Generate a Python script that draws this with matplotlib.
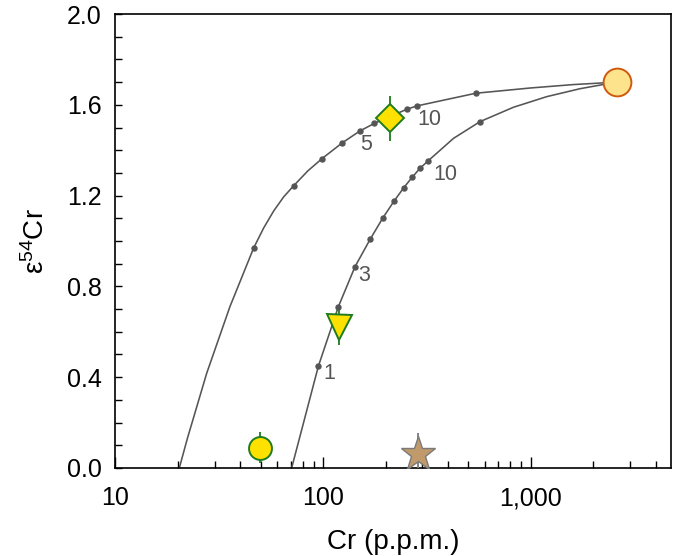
import matplotlib
matplotlib.use('Agg')
import matplotlib.pyplot as plt
import matplotlib.ticker as ticker

plt.rcParams['font.family'] = ['Liberation Sans', 'DejaVu Sans']
plt.rcParams['mathtext.fontset'] = 'custom'
plt.rcParams['mathtext.rm'] = 'Liberation Sans'
plt.rcParams['mathtext.it'] = 'Liberation Sans:italic'

# mixing curves (Cr p.p.m., e54Cr)
left_curve_x = [20.3, 22.2, 27.5, 35.6, 46.3, 51.8, 57.9, 64.7, 72.3, 84.5, 98.9, 124, 150.7,
                176.6, 212, 253, 283, 545, 995, 1600, 2600]
left_curve_y = [0.0, 0.13, 0.417, 0.711, 0.969, 1.058, 1.133, 1.195, 1.244, 1.309, 1.363, 1.433, 1.485,
                1.518, 1.55, 1.58, 1.595, 1.651, 1.674, 1.689, 1.70]
left_dots_x = [46.3, 72.3, 98.9, 124, 150.7, 176.6, 253, 283, 545]
left_dots_y = [0.969, 1.244, 1.363, 1.433, 1.485, 1.518, 1.58, 1.595, 1.651]

right_curve_x = [70.6, 82.8, 95, 118.6, 142.6, 169, 194, 220, 245, 269, 293, 320, 425, 571, 826, 1197, 1733, 2600]
right_curve_y = [0.0, 0.241, 0.449, 0.711, 0.887, 1.009, 1.101, 1.176, 1.235, 1.281, 1.32, 1.352, 1.452, 1.526,
                 1.589, 1.636, 1.671, 1.70]
right_dots_x = [95, 118.6, 142.6, 169, 194, 220, 245, 269, 293, 320, 571]
right_dots_y = [0.449, 0.711, 0.887, 1.009, 1.101, 1.176, 1.235, 1.281, 1.32, 1.352, 1.526]

# percent labels along the curves
pct_labels = ['1', '3', '5', '10', '10']
pct_x = [107, 158, 162, 325, 390]
pct_y = [0.417, 0.846, 1.423, 1.536, 1.295]

# samples
endmember = (2600, 1.70)
diamond = (211, 1.54, 0.10)
triangle = (120, 0.62, 0.077)
circle = (49.7, 0.09, 0.07)
star = (288, 0.062, 0.09)

fig = plt.figure(figsize=(6.75, 5.56), dpi=100)
ax = fig.add_axes([0.1711, 0.1583, 0.8230, 0.8165])

curve_col = '#555555'
ax.plot(left_curve_x, left_curve_y, color=curve_col, lw=1.15, zorder=2)
ax.plot(right_curve_x, right_curve_y, color=curve_col, lw=1.15, zorder=2)
ax.plot(left_dots_x, left_dots_y, 'o', color=curve_col, ms=3.6, zorder=3)
ax.plot(right_dots_x, right_dots_y, 'o', color=curve_col, ms=3.6, zorder=3)

for t, x, y in zip(pct_labels, pct_x, pct_y):
    ax.text(x, y, t, fontsize=15.5, color='#555555', ha='center', va='center')

yellow = '#FFE100'
green = '#1E7B1E'
ax.errorbar(diamond[0], diamond[1], yerr=diamond[2], fmt='D', ms=14, mfc=yellow, mec=green,
            mew=1.4, ecolor=green, elinewidth=1.3, capsize=0, zorder=5)
ax.errorbar(triangle[0], triangle[1], yerr=triangle[2], fmt='v', ms=18, mfc=yellow, mec=green,
            mew=1.4, ecolor=green, elinewidth=1.3, capsize=0, zorder=5)
ax.errorbar(circle[0], circle[1], yerr=circle[2], fmt='o', ms=16.5, mfc=yellow, mec=green,
            mew=1.4, ecolor=green, elinewidth=1.3, capsize=0, zorder=5)
ax.errorbar(star[0], star[1], yerr=star[2], fmt='*', ms=26, mfc='#C19A6B', mec='#7A7A7A',
            mew=1.0, ecolor='#7A7A7A', elinewidth=1.3, capsize=0, zorder=5)
ax.plot(endmember[0], endmember[1], 'o', ms=20, mfc='#FDE38B', mec='#CF5A0F', mew=1.4,
        zorder=6, clip_on=False)

ax.set_xscale('log')
ax.set_xlim(10, 4750)
ax.set_ylim(0, 2.0)

ax.xaxis.set_major_locator(ticker.FixedLocator([10, 100, 1000]))
ax.xaxis.set_major_formatter(ticker.FuncFormatter(lambda v, p: f'{v:,.0f}'))
ax.xaxis.set_minor_locator(ticker.LogLocator(base=10, subs=range(2, 10)))
ax.xaxis.set_minor_formatter(ticker.NullFormatter())
ax.yaxis.set_major_locator(ticker.MultipleLocator(0.4))
ax.yaxis.set_minor_locator(ticker.MultipleLocator(0.1))
ax.yaxis.set_major_formatter(ticker.FormatStrFormatter('%.1f'))

ax.tick_params(axis='both', which='both', direction='in', top=False, right=False,
               labelsize=18, width=1.0, pad=10)
ax.tick_params(axis='x', which='both', pad=13)
ax.tick_params(axis='x', which='major', length=8)
ax.tick_params(axis='x', which='minor', length=5)
ax.tick_params(axis='y', which='both', length=5)

for s in ax.spines.values():
    s.set_linewidth(1.2)

ax.set_xlabel('Cr (p.p.m.)', fontsize=20, labelpad=14)
ax.set_ylabel('ε$^{54}$Cr', fontsize=20, labelpad=12)

fig.savefig('out.png', dpi=100)
